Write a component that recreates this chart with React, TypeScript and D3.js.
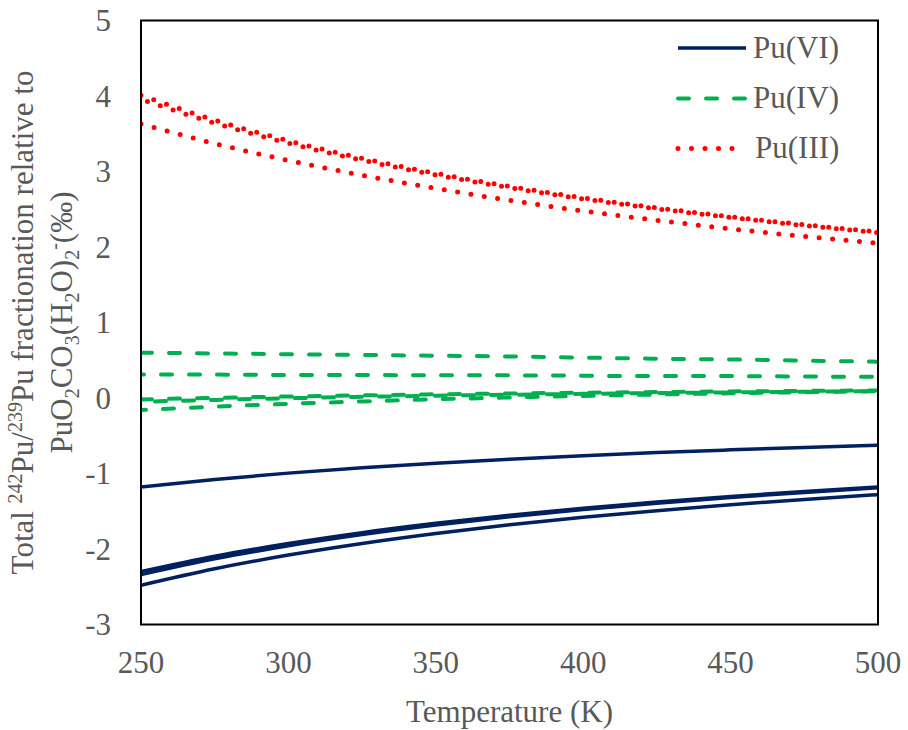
import React from "react";
import * as d3 from "d3";

// Temperature grid (K)
const temperatures = [250, 275, 300, 325, 350, 375, 400, 425, 450, 475, 500];

// Pu(VI) curves (‰)
const puVI_1 = [-1.18, -1.08, -0.995, -0.924, -0.863, -0.81, -0.764, -0.723, -0.687, -0.654, -0.625];
const puVI_2 = [-2.3, -2.096, -1.927, -1.783, -1.66, -1.553, -1.46, -1.378, -1.304, -1.239, -1.18];
const puVI_3 = [-2.34, -2.131, -1.957, -1.809, -1.683, -1.573, -1.478, -1.393, -1.318, -1.251, -1.19];
const puVI_4 = [-2.48, -2.262, -2.08, -1.926, -1.794, -1.68, -1.58, -1.492, -1.413, -1.343, -1.28];

// Pu(IV) curves (‰)
const puIV_1 = [0.6, 0.59, 0.58, 0.57, 0.56, 0.55, 0.535, 0.52, 0.51, 0.495, 0.48];
const puIV_2 = [0.31, 0.31, 0.305, 0.305, 0.3, 0.3, 0.295, 0.29, 0.29, 0.285, 0.28];
const puIV_3 = [-0.02, 0.002, 0.02, 0.035, 0.049, 0.06, 0.07, 0.079, 0.087, 0.094, 0.1];
const puIV_4 = [-0.05, -0.025, -0.003, 0.015, 0.03, 0.043, 0.055, 0.065, 0.074, 0.083, 0.09];
const puIV_5 = [-0.16, -0.115, -0.077, -0.045, -0.017, 0.007, 0.028, 0.046, 0.062, 0.077, 0.09];

// Pu(III) curves (‰)
const puIII_1 = [4.01, 3.68, 3.407, 3.175, 2.976, 2.803, 2.652, 2.519, 2.401, 2.295, 2.2];
const puIII_2 = [3.955, 3.64, 3.375, 3.15, 2.955, 2.786, 2.637, 2.506, 2.39, 2.285, 2.19];
const puIII_3 = [3.63, 3.37, 3.147, 2.95, 2.776, 2.618, 2.477, 2.354, 2.241, 2.14, 2.05];

// Axis ticks
const xTicks = [250, 300, 350, 400, 450, 500];
const yTicks = [-3, -2, -1, 0, 1, 2, 3, 4, 5];

// Legend entries
const legendLabels = ["Pu(VI)", "Pu(IV)", "Pu(III)"];

const W = 908;
const H = 730;
const plot = { left: 141, right: 878, top: 20.5, bottom: 624.5 };
const FONT = "'Liberation Serif', 'Times New Roman', serif";
const TEXT = "#595959";

const styles = {
  vi: { stroke: "#002060", width: 3.5, dash: undefined as string | undefined, cap: "butt" },
  iv: { stroke: "#00B050", width: 4, dash: "11 17", cap: "round" },
  iii: { stroke: "#FF0000", width: 5, dash: "0 13.5", cap: "round" },
};

export default function App() {
  const x = d3.scaleLinear().domain([250, 500]).range([plot.left, plot.right]);
  const y = d3.scaleLinear().domain([-3, 5]).range([plot.bottom, plot.top]);

  const line = d3
    .line<number>()
    .x((_, i) => x(temperatures[i]))
    .y((d) => y(d))
    .curve(d3.curveMonotoneX);

  // each series carries an optional dash phase so overlapping dotted curves stay distinguishable
  const groups = [
    { key: "vi", series: [puVI_1, puVI_2, puVI_3, puVI_4], offsets: [0, 0, 0, 0] },
    { key: "iv", series: [puIV_1, puIV_2, puIV_3, puIV_4, puIV_5], offsets: [0, 8, 0, 14, 6] },
    { key: "iii", series: [puIII_3, puIII_2, puIII_1], offsets: [0, 6.7, 0] },
  ] as const;

  const legendRows = [
    { key: "vi", y: 48, x1: 678, x2: 746 },
    { key: "iv", y: 98.5, x1: 678, x2: 747 },
    { key: "iii", y: 148.5, x1: 678, x2: 735 },
  ];

  const plotCy = (plot.top + plot.bottom) / 2;

  return (
    <svg
      width={W}
      height={H}
      style={{ position: "absolute", left: 0, top: 0, background: "#fff" }}
      fontFamily={FONT}
    >
      <defs>
        <clipPath id="plotClip">
          <rect x={plot.left} y={plot.top} width={plot.right - plot.left} height={plot.bottom - plot.top} />
        </clipPath>
      </defs>
      <rect x={0} y={0} width={W} height={H} fill="#fff" />

      {/* data lines */}
      <g clipPath="url(#plotClip)">
        {groups.map((g) =>
          g.series.map((s, i) => {
            const st = styles[g.key];
            return (
              <path
                key={`${g.key}-${i}`}
                d={line(s) || ""}
                fill="none"
                stroke={st.stroke}
                strokeWidth={st.width}
                strokeDasharray={st.dash}
                strokeDashoffset={g.offsets[i]}
                strokeLinecap={st.cap as any}
                strokeLinejoin="round"
              />
            );
          })
        )}
      </g>

      {/* plot frame */}
      <rect
        x={plot.left}
        y={plot.top}
        width={plot.right - plot.left}
        height={plot.bottom - plot.top}
        fill="none"
        stroke="#000"
        strokeWidth={2}
      />

      {/* x tick labels */}
      {xTicks.map((t) => (
        <text key={t} x={x(t)} y={673} textAnchor="middle" fontSize={31} fill={TEXT}>
          {t}
        </text>
      ))}
      {/* y tick labels */}
      {yTicks.map((t) => (
        <text key={t} x={111} y={y(t) + 10.5} textAnchor="end" fontSize={31} fill={TEXT}>
          {t}
        </text>
      ))}

      {/* axis titles */}
      <text x={(plot.left + plot.right) / 2} y={722} textAnchor="middle" fontSize={31} fill={TEXT}>
        Temperature (K)
      </text>
      <text transform={`translate(33, ${plotCy}) rotate(-90)`} textAnchor="middle" fontSize={31} fill={TEXT}>
        <tspan>Total </tspan>
        <tspan fontSize={20} dy={-11}>242</tspan>
        <tspan dy={11}>Pu/</tspan>
        <tspan fontSize={20} dy={-11}>239</tspan>
        <tspan dy={11}>Pu fractionation relative to</tspan>
      </text>
      <text transform={`translate(72, ${plotCy}) rotate(-90)`} textAnchor="middle" fontSize={31} fill={TEXT}>
        <tspan>PuO</tspan>
        <tspan fontSize={20} dy={7}>2</tspan>
        <tspan dy={-7}>CO</tspan>
        <tspan fontSize={20} dy={7}>3</tspan>
        <tspan dy={-7}>(H</tspan>
        <tspan fontSize={20} dy={7}>2</tspan>
        <tspan dy={-7}>O)</tspan>
        <tspan fontSize={20} dy={7}>2</tspan>
        <tspan fontSize={20} dy={-18}>-</tspan>
        <tspan dy={11}>(‰)</tspan>
      </text>

      {/* legend */}
      {legendRows.map((r, i) => {
        const st = styles[r.key as keyof typeof styles];
        return (
          <g key={r.key}>
            <line
              x1={r.x1}
              x2={r.x2}
              y1={r.y}
              y2={r.y}
              stroke={st.stroke}
              strokeWidth={st.width}
              strokeDasharray={st.dash}
              strokeLinecap={st.cap as any}
            />
            <text x={r.key === "iii" ? 755 : 753} y={r.y + 9.5} fontSize={31} fill={TEXT}>
              {legendLabels[i]}
            </text>
          </g>
        );
      })}
    </svg>
  );
}
